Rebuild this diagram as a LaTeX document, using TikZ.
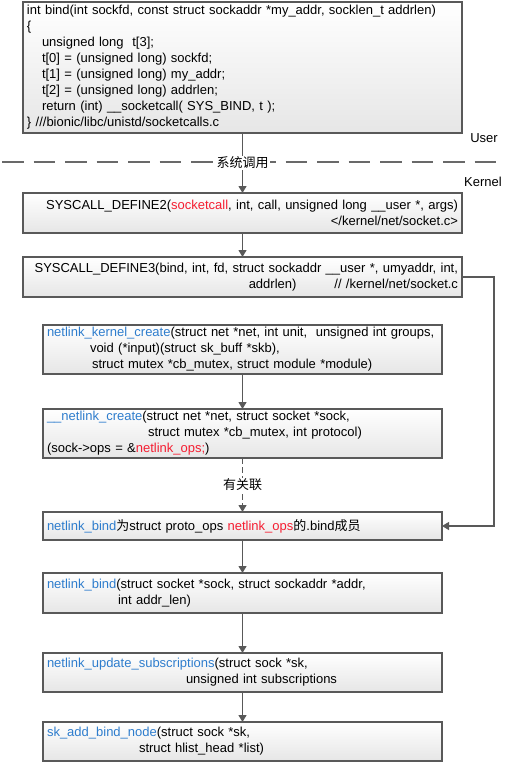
\documentclass[tikz,border=0pt]{standalone}
\usepackage{fontspec}
\setmainfont{Liberation Sans}
\newfontfamily\cjk{Noto Sans CJK SC}
\usepackage{xcolor}
\usetikzlibrary{arrows.meta,positioning}

\definecolor{edgegray}{RGB}{89,89,89}
\definecolor{fillgray}{RGB}{230,230,230}
\definecolor{dashgray}{RGB}{105,105,105}
\definecolor{fnblue}{RGB}{46,125,205}
\definecolor{kwred}{RGB}{245,30,50}

\begin{document}
\begin{tikzpicture}[
      x=1pt, y=1pt,
      fnbox/.style={draw=edgegray, line width=1.1pt, outer sep=0pt, top color=white, bottom color=fillgray,
        inner xsep=4pt, inner ysep=1pt, font=\fontsize{13}{16}\selectfont},
      wide/.style={fnbox, minimum width=439pt, text width=431pt},
      narrow/.style={fnbox, minimum width=399pt, text width=391pt, align=left},
      flow/.style={draw=edgegray, line width=1.1pt, -{Triangle[width=8pt,length=7pt]}},
      tag/.style={font=\fontsize{13}{16}\selectfont, inner sep=1pt}
    ]
    \useasboundingbox (0,0) rectangle (510,-762);

    % user space
    \node[wide, minimum height=131pt, align=left] (bind) at (242.5,-67.5) {int bind(int sockfd, const struct sockaddr *my\_addr, socklen\_t addrlen)\\
      \{\\
      \hspace*{15pt}unsigned long\ \ t[3];\\
      \hspace*{15pt}t[0] = (unsigned long) sockfd;\\
      \hspace*{15pt}t[1] = (unsigned long) my\_addr;\\
      \hspace*{15pt}t[2] = (unsigned long) addrlen;\\
      \hspace*{15pt}return (int) \_\_socketcall( SYS\_BIND, t );\\
      \} ///bionic/libc/unistd/socketcalls.c};

    % kernel space
    \node[wide, minimum height=40pt, align=right, below=60pt of bind] (sockcall) {SYSCALL\_DEFINE2(\textcolor{kwred}{socketcall}, int, call, unsigned long \_\_user *, args)\\
      </kernel/net/socket.c>};
    \node[wide, minimum height=40pt, align=right, below=24pt of sockcall] (sysbind) {SYSCALL\_DEFINE3(bind, int, fd, struct sockaddr \_\_user *, umyaddr, int,\\
      addrlen)\hspace{38pt}// /kernel/net/socket.c};

    \node[narrow, minimum height=49pt, below=28pt of sysbind] (kcreate) {\textcolor{fnblue}{netlink\_kernel\_create}(struct net *net, int unit,\ \ unsigned int groups,\\
      \hspace*{43pt}void (*input)(struct sk\_buff *skb),\\
      \hspace*{45pt}struct mutex *cb\_mutex, struct module *module)};
    \node[narrow, minimum height=49pt, below=35pt of kcreate] (ncreate) {\textcolor{fnblue}{\_\_netlink\_create}(struct net *net, struct socket *sock,\\
      \hspace*{101pt}struct mutex *cb\_mutex, int protocol)\\
      (sock->ops = \&\textcolor{kwred}{netlink\_ops;})};
    \node[narrow, minimum height=28pt, below=54pt of ncreate] (opsbind) {\textcolor{fnblue}{netlink\_bind}{\cjk 为}struct proto\_ops \textcolor{kwred}{netlink\_ops}{\cjk 的}.bind{\cjk 成员}};
    \node[narrow, minimum height=40pt, below=33pt of opsbind] (nbind) {\textcolor{fnblue}{netlink\_bind}(struct socket *sock, struct sockaddr *addr,\\
      \hspace*{71pt}int addr\_len)};
    \node[narrow, minimum height=39pt, below=40pt of nbind] (updsub) {\textcolor{fnblue}{netlink\_update\_subscriptions}(struct sock *sk,\\
      \hspace*{139pt}unsigned int subscriptions};
    \node[narrow, minimum height=39pt, below=30pt of updsub] (addnode) {\textcolor{fnblue}{sk\_add\_bind\_node}(struct sock *sk,\\
      \hspace*{92pt}struct hlist\_head *list)};

    % user / kernel border
    \coordinate (sepL) at (2,-162);
    \coordinate (sepR) at (498,-162);
    \draw[flow] (bind) -- (sockcall);
    \draw[dashgray, line width=2pt, dash pattern=on 21.5pt off 10pt] (sepL) -- (sepR);
    \node[tag, fill=white, font=\cjk\fontsize{13}{16}\selectfont] (sysc) at (242.5,-163) {系统调用};
    \node[tag] (user) at (484,-138) {User};
    \node[tag] (kernel) at (483,-182) {Kernel};

    \draw[flow] (sockcall) -- (sysbind);
    \draw[flow] (kcreate) -- (ncreate);
    \draw[flow, dash pattern=on 6pt off 3pt] (ncreate) -- node[tag, fill=white, font=\cjk\fontsize{13}{16}\selectfont] (rel) {有关联} (opsbind);
    \draw[flow] (sysbind.east) -- ++(32,0) |- (opsbind.east);
    \draw[flow] (opsbind) -- (nbind);
    \draw[flow] (nbind) -- (updsub);
    \draw[flow] (updsub) -- (addnode);
  \end{tikzpicture}
\end{document}
